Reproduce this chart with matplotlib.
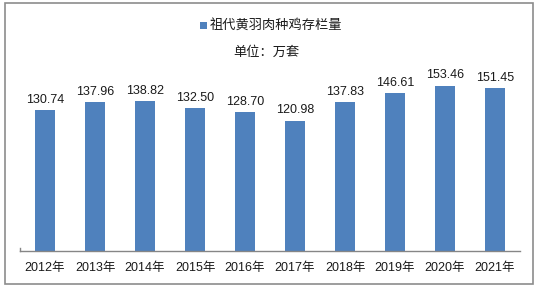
import matplotlib
matplotlib.use("Agg")
import matplotlib.pyplot as plt
from matplotlib import font_manager
from matplotlib.patches import Rectangle

# data
years = ["2012年", "2013年", "2014年", "2015年", "2016年",
         "2017年", "2018年", "2019年", "2020年", "2021年"]
stock = [130.74, 137.96, 138.82, 132.50, 128.70,
         120.98, 137.83, 146.61, 153.46, 151.45]
legend_label = "祖代黄羽肉种鸡存栏量"
unit_label = "单位：万套"

bar_color = "#4F81BD"
text_color = "#1a1a1a"


def pick_font(names):
    for name in names:
        try:
            font_manager.findfont(name, fallback_to_default=False)
            return name
        except ValueError:
            continue
    return "DejaVu Sans"


latin = pick_font(["Liberation Sans Narrow", "Liberation Sans"])
fams = [latin, "Noto Sans CJK SC", "DejaVu Sans"]
plt.rcParams["font.family"] = fams

W, H = 540, 290
fig = plt.figure(figsize=(W / 100, H / 100), dpi=100)

# outer frame
fig.patches.append(Rectangle((5 / W, 6 / H), 528 / W, 281 / H, transform=fig.transFigure,
                             fill=False, edgecolor="#8c8c8c", linewidth=1.2))

ax = fig.add_axes([20 / W, 39 / H, 500 / W, 194 / H])
x = list(range(len(years)))
ax.bar(x, stock, width=0.4, color=bar_color, zorder=2)
ax.set_xlim(-0.5, len(years) - 0.5)
ax.set_ylim(0, 180)

for xi, v in zip(x, stock):
    ax.annotate(f"{v:.2f}", (xi, v), xytext=(0, 3), textcoords="offset points",
                ha="center", va="bottom", fontsize=9, color=text_color)

ax.set_xticks(x)
ax.set_xticklabels(years, fontsize=9, color=text_color)
ax.tick_params(axis="x", length=0, pad=8)
ax.set_yticks([])
for side in ["top", "right", "left"]:
    ax.spines[side].set_visible(False)
ax.spines["bottom"].set_color("#868686")
ax.spines["bottom"].set_linewidth(1.0)
ax.patch.set_alpha(0)
# small tick at the left end of the category axis
ax.plot([0, 0], [0, 0.015], transform=ax.transAxes, color="#868686",
        linewidth=1.0, clip_on=False)

# legend + unit
fig.patches.append(Rectangle((200 / W, 1 - 29 / H), 7 / W, 7 / H, transform=fig.transFigure,
                             facecolor=bar_color, edgecolor="none"))
fig.text(210 / W, 1 - 25 / H, legend_label, ha="left", va="center",
         fontsize=9.5, color=text_color)
fig.text(266 / W, 1 - 53 / H, unit_label, ha="center", va="center",
         fontsize=9.5, color=text_color)

fig.savefig("out.png", dpi=100)
